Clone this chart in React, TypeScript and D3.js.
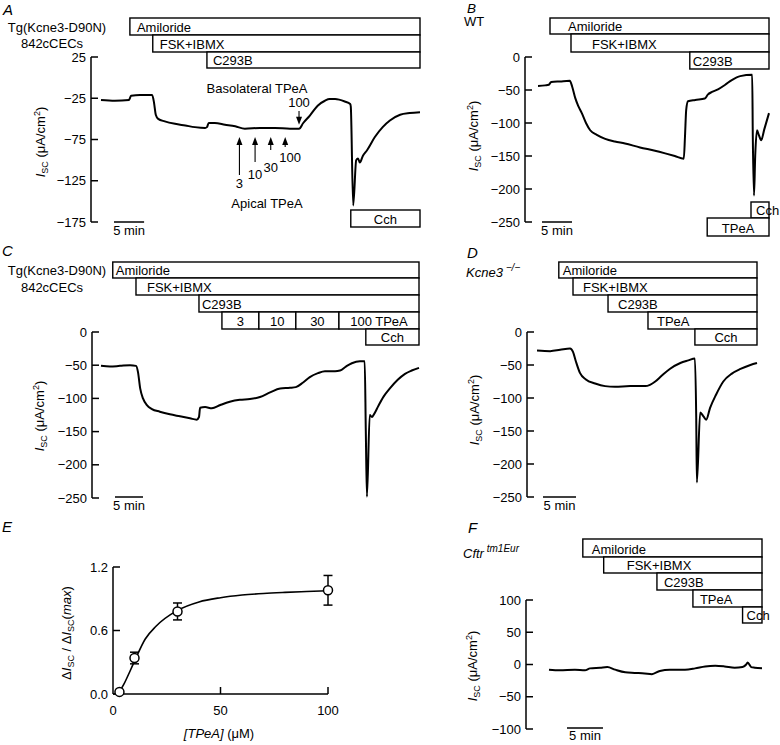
import React from 'react';
import * as d3 from 'd3';

const FONT = "'Liberation Sans', Arial, Helvetica, sans-serif";

// ---------- Panel A: Tg(Kcne3-D90N) 842cCECs ----------
const timeA = [0,2.3,4.65,5.0,6.5,8.5,8.8,9.1,9.5,10.6,12.3,14.0,15.6,17.3,17.6,17.9,18.9,20.6,22.3,23.9,26.4,28.9,31.4,32.9,33.6,34.7,36.0,37.2,38.0,38.9,40.5,41.4,41.5,41.9,42.4,42.7,43.0,43.5,44.2,45.5,46.8,48.0,49.7,51.3,53.0];
const iscA = [-27,-28,-27,-22,-21,-21,-30,-45,-50,-53,-56,-58,-60,-61,-60,-55,-55,-57,-59,-62,-61,-61,-62,-62,-55,-46,-34,-28,-26,-26,-29,-32,-35,-155,-100,-98,-103,-95,-88,-72,-60,-52,-45,-43,-42];
const drugsA = ['Amiloride', 'FSK+IBMX', 'C293B', 'Cch'];
const drugStartA = [4.8, 8.6, 17.6, 41.5];
const ticksA = [25, -25, -75, -125, -175];
const apicalDoses = ['3', '10', '30', '100'];
const apicalTimes = [23.0, 25.6, 28.2, 30.6];
const basoDose = '100';
const basoTime = 32.9;

// ---------- Panel B: WT ----------
const timeB = [0,1.2,1.8,2.2,3.7,5.3,5.7,6.2,6.7,7.3,8.0,8.7,9.8,11.2,12.8,14.5,17,19.5,21.2,22.8,24.3,24.5,24.7,25,26.2,27.8,28.3,29,30,31.2,32.3,33.7,35.7,35.8,36.0,36.2,36.5,36.8,37.2,37.7,38.5];
const iscB = [-44,-43,-42,-38,-37,-36,-45,-62,-74,-85,-100,-111,-118,-124,-128,-131,-137,-142,-146,-150,-154,-120,-80,-67,-65,-63,-57,-53,-49,-42,-35,-29,-27,-120,-210,-150,-111,-118,-126,-110,-85];
const drugsB = ['Amiloride', 'FSK+IBMX', 'C293B', 'Cch', 'TPeA'];
const drugStartB = [2.0, 5.5, 25.3, 35.5, 28.2];
const ticksB = [0, -50, -100, -150, -200, -250];

// ---------- Panel C: Tg(Kcne3-D90N) 842cCECs, TPeA doses ----------
const timeC = [0,1.6,3.4,5.2,6.25,6.6,7.0,7.5,8.2,9.1,10.5,12.3,14.1,15.9,17.1,17.5,17.7,18.6,19.8,21.3,23.0,24.8,26.6,28.4,30.2,32.0,33.75,34.8,36.1,37.3,38.75,40.0,41.8,42.7,43.75,44.8,46.25,47.1,47.3,47.5,48.0,48.4,48.75,49.5,50.5,51.6,53.0,54.3,55.5,56.8];
const iscC = [-51,-52,-51,-50,-51,-60,-85,-100,-110,-116,-120,-124,-127,-130,-132,-128,-114,-113,-115,-110,-105,-102,-101,-98,-91,-85,-84,-83,-76,-68,-62,-59,-59,-58,-52,-47,-44,-44,-150,-248,-125,-128,-124,-112,-97,-85,-72,-63,-58,-54];
const drugsC = ['Amiloride', 'FSK+IBMX', 'C293B', 'Cch'];
const drugStartC = [2.1, 6.25, 17.5, 47.3];
const doseLabelsC = ['3', '10', '30', '100 TPeA'];
const doseStartC = [21.6, 28.2, 34.8, 42.5];
const ticksC = [0, -50, -100, -150, -200, -250];

// ---------- Panel D: Kcne3-/- ----------
const timeD = [0,2.0,3.5,5.0,5.45,5.9,6.5,7.4,8.8,10.3,11.8,14.1,16.4,17.1,17.9,18.9,20.1,21.7,22.9,23.9,24.1,24.2,24.7,25.2,25.6,26.2,27.1,28.2,29.5,30.8,32.3,33.3];
const iscD = [-28,-29,-27,-25,-30,-45,-62,-72,-78,-82,-83,-82,-82,-80,-75,-66,-56,-47,-43,-40,-130,-228,-122,-128,-133,-115,-95,-75,-63,-56,-50,-47];
const drugsD = ['Amiloride', 'FSK+IBMX', 'C293B', 'TPeA', 'Cch'];
const drugStartD = [3.3, 5.45, 10.75, 16.8, 23.9];
const ticksD = [0, -50, -100, -150, -200, -250];

// ---------- Panel E: dose response ----------
const concE = [3, 10, 30, 100];
const meanE = [0.02, 0.34, 0.78, 0.98];
const semE = [0, 0.055, 0.08, 0.14];
const fitConcE = [3,5,8,10,15,20,30,40,50,60,70,80,90,100];
const fitRespE = [0.02,0.09,0.22,0.31,0.52,0.64,0.79,0.87,0.91,0.935,0.95,0.96,0.968,0.975];
const yTicksE = [0, 0.6, 1.2];
const xTicksE = [0, 50, 100];

// ---------- Panel F: Cftr tm1Eur ----------
const timeF = [0,1.5,3.6,5.0,5.7,7.1,8.1,9.2,10.6,11.9,13.3,14.3,15.4,16.8,18.9,20.3,21.7,23.1,24.4,25.8,26.9,27.4,27.6,28.1,28.6,29.6];
const iscF = [-8,-9,-8,-9,-6,-5,-4,-8,-12,-13,-14,-15,-10,-8,-8,-6,-3,-2,-3,-5,-4,0,3,-4,-5,-6];
const drugsF = ['Amiloride', 'FSK+IBMX', 'C293B', 'TPeA', 'Cch'];
const drugStartF = [4.7, 7.6, 15.0, 20.0, 26.9];
const ticksF = [100, 50, 0, -50, -100];

const fmt = (v: number) => (v < 0 ? '\u2212' + Math.abs(v) : String(v));

type BoxSpec = { label: string; start: number; end: number; top: number; bottom: number; align: 'start' | 'middle'; dx?: number };

function Boxes({ boxes, x }: { boxes: BoxSpec[]; x: d3.ScaleLinear<number, number> }) {
  return (
    <g>
      {boxes.map((b, i) => {
        const x0 = x(b.start);
        const x1 = x(b.end);
        const tx = b.align === 'middle' ? (x0 + x1) / 2 : x0 + (b.dx ?? 4);
        return (
          <g key={i}>
            <rect x={x0} y={b.top} width={x1 - x0} height={b.bottom - b.top} fill="white" stroke="black" strokeWidth={1.4} />
            <text x={tx} y={b.bottom - 3.5} textAnchor={b.align} fontSize={13}>{b.label}</text>
          </g>
        );
      })}
    </g>
  );
}

function IscLabel({ x, y }: { x: number; y: number }) {
  return (
    <text transform={`translate(${x},${y}) rotate(-90)`} textAnchor="middle" fontSize={13}>
      <tspan fontStyle="italic">I</tspan>
      <tspan fontSize={9} dy={3}>SC</tspan>
      <tspan dy={-3}> (μA/cm</tspan>
      <tspan fontSize={9} dy={-5}>2</tspan>
      <tspan dy={5}>)</tspan>
    </text>
  );
}

type TraceProps = {
  t: number[]; v: number[];
  xDomain: [number, number]; xRange: [number, number];
  yDomain: [number, number]; yRange: [number, number];
  ticks: number[]; axisX: number;
  boxes: (x: d3.ScaleLinear<number, number>) => BoxSpec[];
  bar: { x: number; y: number; textY: number };
  ylab: { x: number; y: number };
  extra?: (x: d3.ScaleLinear<number, number>, y: d3.ScaleLinear<number, number>) => React.ReactNode;
};

function TracePanel(p: TraceProps) {
  const x = d3.scaleLinear().domain(p.xDomain).range(p.xRange);
  const y = d3.scaleLinear().domain(p.yDomain).range(p.yRange);
  const line = d3.line<number>().x((_, i) => x(p.t[i])).y((d) => y(d)).curve(d3.curveMonotoneX);
  const barLen = x(5) - x(0);
  const yTop = y(p.yDomain[1]);
  const yBot = y(p.yDomain[0]);
  return (
    <g>
      <Boxes boxes={p.boxes(x)} x={x} />
      <line x1={p.axisX} x2={p.axisX} y1={yTop} y2={yBot} stroke="black" strokeWidth={1.5} />
      {p.ticks.map((tk) => (
        <g key={tk}>
          <line x1={p.axisX} x2={p.axisX + 7} y1={y(tk)} y2={y(tk)} stroke="black" strokeWidth={1.5} />
          <text x={p.axisX - 5} y={y(tk) + 4.5} textAnchor="end" fontSize={13}>{fmt(tk)}</text>
        </g>
      ))}
      <path d={line(p.v) || ''} fill="none" stroke="black" strokeWidth={2} strokeLinejoin="round" />
      <line x1={p.bar.x} x2={p.bar.x + barLen} y1={p.bar.y} y2={p.bar.y} stroke="black" strokeWidth={1.5} />
      <text x={p.bar.x + barLen / 2} y={p.bar.textY} textAnchor="middle" fontSize={13}>5 min</text>
      <IscLabel x={p.ylab.x} y={p.ylab.y} />
      {p.extra ? p.extra(x, y) : null}
    </g>
  );
}

function Arrow({ x, y1, y2 }: { x: number; y1: number; y2: number }) {
  // arrow from y1 (tail) to y2 (tip)
  const dir = y2 < y1 ? 1 : -1;
  return (
    <g>
      <line x1={x} x2={x} y1={y1} y2={y2 + dir * 6} stroke="black" strokeWidth={1.1} />
      <path d={`M${x},${y2} L${x - 3},${y2 + dir * 8} L${x + 3},${y2 + dir * 8} Z`} fill="black" />
    </g>
  );
}

function PanelE() {
  const x = d3.scaleLinear().domain([0, 100]).range([113, 328]);
  const y = d3.scaleLinear().domain([0, 1.2]).range([694, 567]);
  const fit = d3.line<number>().x((_, i) => x(fitConcE[i])).y((d) => y(d)).curve(d3.curveMonotoneX);
  return (
    <g>
      <line x1={x(0)} x2={x(0)} y1={y(1.2)} y2={y(0)} stroke="black" strokeWidth={1.5} />
      <line x1={x(0)} x2={x(100)} y1={y(0)} y2={y(0)} stroke="black" strokeWidth={1.5} />
      {yTicksE.map((tk) => (
        <g key={tk}>
          <line x1={x(0)} x2={x(0) + 7} y1={y(tk)} y2={y(tk)} stroke="black" strokeWidth={1.5} />
          <text x={x(0) - 5} y={y(tk) + 4.5} textAnchor="end" fontSize={13}>{tk.toFixed(1)}</text>
        </g>
      ))}
      {xTicksE.map((tk) => (
        <g key={tk}>
          {tk > 0 ? <line x1={x(tk)} x2={x(tk)} y1={y(0)} y2={y(0) - 7} stroke="black" strokeWidth={1.5} /> : null}
          <text x={x(tk)} y={715} textAnchor="middle" fontSize={13}>{tk}</text>
        </g>
      ))}
      <path d={fit(fitRespE) || ''} fill="none" stroke="black" strokeWidth={1.6} />
      {concE.map((c, i) => (
        <g key={c}>
          {semE[i] > 0 ? (
            <g stroke="black" strokeWidth={1.5}>
              <line x1={x(c)} x2={x(c)} y1={y(meanE[i] - semE[i])} y2={y(meanE[i] + semE[i])} />
              <line x1={x(c) - 4.5} x2={x(c) + 4.5} y1={y(meanE[i] - semE[i])} y2={y(meanE[i] - semE[i])} />
              <line x1={x(c) - 4.5} x2={x(c) + 4.5} y1={y(meanE[i] + semE[i])} y2={y(meanE[i] + semE[i])} />
            </g>
          ) : null}
          <circle cx={x(c)} cy={y(meanE[i])} r={4.5} fill="white" stroke="black" strokeWidth={1.5} />
        </g>
      ))}
      <text transform="translate(71,633) rotate(-90)" textAnchor="middle" fontSize={13}>
        <tspan>Δ</tspan>
        <tspan fontStyle="italic">I</tspan>
        <tspan fontSize={9} dy={3}>SC</tspan>
        <tspan dy={-3}> / Δ</tspan>
        <tspan fontStyle="italic">I</tspan>
        <tspan fontSize={9} dy={3}>SC</tspan>
        <tspan dy={-3}>(</tspan>
        <tspan fontStyle="italic">max</tspan>
        <tspan>)</tspan>
      </text>
      <text x={219} y={738} textAnchor="middle" fontSize={13}>
        <tspan fontStyle="italic">[TPeA]</tspan>
        <tspan> (μM)</tspan>
      </text>
    </g>
  );
}

export default function App() {
  const letter = { fontSize: 15, fontStyle: 'italic' as const };
  return (
    <div style={{ position: 'absolute', left: 0, top: 0 }}>
      <svg width={780} height={745} style={{ display: 'block', background: 'white', fontFamily: FONT }}>
        {/* Panel A */}
        <text x={3} y={15} {...letter}>A</text>
        <text x={57} y={32} textAnchor="middle" fontSize={13}>Tg(Kcne3-D90N)</text>
        <text x={52} y={48} textAnchor="middle" fontSize={13}>842cCECs</text>
        <TracePanel
          t={timeA} v={iscA}
          xDomain={[0, 53]} xRange={[101, 420]}
          yDomain={[-175, 25]} yRange={[222, 57]}
          ticks={ticksA} axisX={91}
          boxes={() => [
            { label: drugsA[0], start: drugStartA[0], end: 53, top: 18, bottom: 35, align: 'start', dx: 7 },
            { label: drugsA[1], start: drugStartA[1], end: 53, top: 35, bottom: 52, align: 'start', dx: 7 },
            { label: drugsA[2], start: drugStartA[2], end: 53, top: 52, bottom: 68, align: 'start', dx: 6 },
            { label: drugsA[3], start: drugStartA[3], end: 53, top: 210, bottom: 227, align: 'middle' },
          ]}
          bar={{ x: 114, y: 222, textY: 235 }}
          ylab={{ x: 45, y: 142 }}
          extra={(x, y) => (
            <g>
              <text x={257} y={93} textAnchor="middle" fontSize={13}>Basolateral TPeA</text>
              <text x={x(basoTime)} y={107} textAnchor="middle" fontSize={13}>{basoDose}</text>
              <Arrow x={x(basoTime)} y1={111} y2={y(-57)} />
              {apicalDoses.map((d, i) => {
                const len = [38, 25, 13, 10][i];
                const tip = y(-72);
                const ly = [188, 179, 172, 162][i];
                const lx = [0, 0, 0, 5][i];
                return (
                  <g key={d}>
                    <Arrow x={x(apicalTimes[i])} y1={tip + len} y2={tip} />
                    <text x={x(apicalTimes[i]) + lx} y={ly} textAnchor="middle" fontSize={13}>{d}</text>
                  </g>
                );
              })}
              <text x={267} y={208} textAnchor="middle" fontSize={13}>Apical TPeA</text>
            </g>
          )}
        />

        {/* Panel B */}
        <text x={467} y={12.5} fontStyle="italic" fontSize={13.5}>B</text>
        <text x={464} y={26} fontSize={13}>WT</text>
        <TracePanel
          t={timeB} v={iscB}
          xDomain={[0, 38.5]} xRange={[538, 769]}
          yDomain={[-250, 0]} yRange={[222, 57]}
          ticks={ticksB} axisX={525}
          boxes={() => [
            { label: drugsB[0], start: drugStartB[0], end: 38.5, top: 18, bottom: 34, align: 'start', dx: 18 },
            { label: drugsB[1], start: drugStartB[1], end: 38.5, top: 34, bottom: 52, align: 'start', dx: 21 },
            { label: drugsB[2], start: drugStartB[2], end: 38.5, top: 52, bottom: 69, align: 'start', dx: 3 },
            { label: drugsB[3], start: drugStartB[3], end: 38.5, top: 202, bottom: 218, align: 'start', dx: 5 },
            { label: drugsB[4], start: drugStartB[4], end: 38.5, top: 218, bottom: 236, align: 'middle' },
          ]}
          bar={{ x: 542, y: 222, textY: 235 }}
          ylab={{ x: 478, y: 136 }}
        />

        {/* Panel C */}
        <text x={2} y={256} {...letter}>C</text>
        <text x={57} y={275} textAnchor="middle" fontSize={13}>Tg(Kcne3-D90N)</text>
        <text x={52} y={292} textAnchor="middle" fontSize={13}>842cCECs</text>
        <TracePanel
          t={timeC} v={iscC}
          xDomain={[0, 56.8]} xRange={[101, 419]}
          yDomain={[-250, 0]} yRange={[498, 332]}
          ticks={ticksC} axisX={92}
          boxes={() => [
            { label: drugsC[0], start: drugStartC[0], end: 56.8, top: 262, bottom: 278, align: 'start', dx: 3 },
            { label: drugsC[1], start: drugStartC[1], end: 56.8, top: 278, bottom: 295, align: 'start', dx: 11 },
            { label: drugsC[2], start: drugStartC[2], end: 56.8, top: 295, bottom: 312, align: 'start', dx: 3 },
            ...doseLabelsC.map((l, i) => ({
              label: l, start: doseStartC[i], end: i < doseStartC.length - 1 ? doseStartC[i + 1] : 56.8,
              top: 312, bottom: 329, align: 'middle' as const,
            })),
            { label: drugsC[3], start: drugStartC[3], end: 56.8, top: 329, bottom: 345, align: 'middle' },
          ]}
          bar={{ x: 115, y: 497, textY: 510 }}
          ylab={{ x: 44, y: 416 }}
        />

        {/* Panel D */}
        <text x={467} y={258} {...letter}>D</text>
        <text x={466} y={277} fontSize={13} fontStyle="italic">
          Kcne3<tspan fontSize={10} dy={-6}> −/−</tspan>
        </text>
        <TracePanel
          t={timeD} v={iscD}
          xDomain={[0, 33.3]} xRange={[537, 757]}
          yDomain={[-250, 0]} yRange={[497, 332]}
          ticks={ticksD} axisX={527}
          boxes={() => [
            { label: drugsD[0], start: drugStartD[0], end: 33.3, top: 262, bottom: 278, align: 'start', dx: 4 },
            { label: drugsD[1], start: drugStartD[1], end: 33.3, top: 278, bottom: 295, align: 'start', dx: 10 },
            { label: drugsD[2], start: drugStartD[2], end: 33.3, top: 295, bottom: 312, align: 'start', dx: 10 },
            { label: drugsD[3], start: drugStartD[3], end: 33.3, top: 312, bottom: 329, align: 'start', dx: 9 },
            { label: drugsD[4], start: drugStartD[4], end: 33.3, top: 329, bottom: 345, align: 'middle' },
          ]}
          bar={{ x: 543, y: 497, textY: 510 }}
          ylab={{ x: 479, y: 410 }}
        />

        {/* Panel E */}
        <text x={2} y={532} {...letter}>E</text>
        <PanelE />

        {/* Panel F */}
        <text x={468} y={533} {...letter}>F</text>
        <text x={463} y={558} fontSize={13} fontStyle="italic">
          Cftr<tspan fontSize={10} dy={-6}> tm1Eur</tspan>
        </text>
        <TracePanel
          t={timeF} v={iscF}
          xDomain={[0, 29.6]} xRange={[549, 762]}
          yDomain={[-100, 100]} yRange={[729, 600]}
          ticks={ticksF} axisX={526}
          boxes={() => [
            { label: drugsF[0], start: drugStartF[0], end: 29.6, top: 539, bottom: 557, align: 'start', dx: 9 },
            { label: drugsF[1], start: drugStartF[1], end: 29.6, top: 557, bottom: 573, align: 'start', dx: 23 },
            { label: drugsF[2], start: drugStartF[2], end: 29.6, top: 573, bottom: 590, align: 'start', dx: 7 },
            { label: drugsF[3], start: drugStartF[3], end: 29.6, top: 590, bottom: 607, align: 'start', dx: 7 },
            { label: drugsF[4], start: drugStartF[4], end: 29.6, top: 607, bottom: 623, align: 'start', dx: 4 },
          ]}
          bar={{ x: 567, y: 728, textY: 740 }}
          ylab={{ x: 477, y: 666 }}
        />
      </svg>
    </div>
  );
}
